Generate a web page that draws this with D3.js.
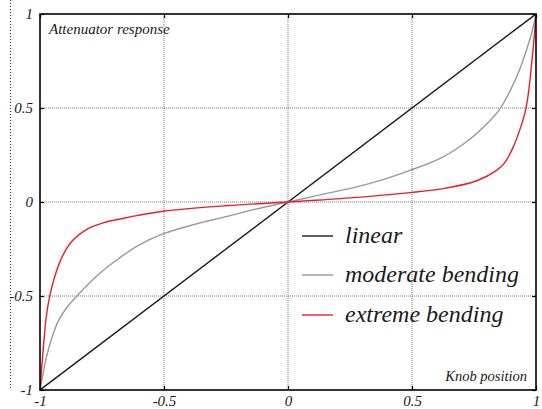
<!DOCTYPE html>
<html>
<head>
<meta charset="utf-8">
<script src="https://cdn.jsdelivr.net/npm/d3@7"></script>
<style>
  body { margin: 0; background: #fff; }
  svg { display: block; }
  text { font-family: "Liberation Serif", serif; font-style: italic; }
</style>
</head>
<body>
<div class="canvas"></div>
<script>
var w = 542;
var h = 409;

// knob position / response samples
var tickValues = [-1, -0.5, 0, 0.5, 1];
var tickLabels = ["-1", "-0.5", "0", "0.5", "1"];

var linearX = [-1, 1];
var linearY = [-1, 1];

var moderateX = [-1, -0.988, -0.975, -0.954, -0.927, -0.894, -0.851, -0.806, -0.753, -0.685, -0.605, -0.504, -0.38, -0.25, -0.13, 0,
    0.134, 0.269, 0.38, 0.492, 0.626, 0.734, 0.801, 0.852, 0.895, 0.935, 0.962, 0.983, 1];
var moderateY = [-1, -0.915, -0.83, -0.73, -0.635, -0.565, -0.5, -0.438, -0.372, -0.303, -0.232, -0.17, -0.12, -0.078, -0.038, 0,
    0.039, 0.078, 0.118, 0.168, 0.24, 0.335, 0.415, 0.49, 0.59, 0.708, 0.81, 0.9, 1];

var extremeX = [-1, -0.992, -0.984, -0.975, -0.961, -0.941, -0.914, -0.874, -0.806, -0.739, -0.672, -0.605, -0.504, -0.25, 0,
    0.25, 0.492, 0.626, 0.761, 0.841, 0.875, 0.909, 0.935, 0.956, 0.969, 0.983, 0.992, 1];
var extremeY = [-1, -0.86, -0.736, -0.612, -0.502, -0.399, -0.301, -0.213, -0.142, -0.108, -0.089, -0.071, -0.049, -0.02, 0,
    0.022, 0.05, 0.071, 0.113, 0.168, 0.211, 0.295, 0.385, 0.477, 0.575, 0.743, 0.867, 1];

var seriesNames = ["linear", "moderate bending", "extreme bending"];
var seriesColors = ["#1a1a1a", "#999999", "#ee1c25"];

var xScale = d3.scaleLinear().domain([-1, 1]).range([40, 536]);
var yScale = d3.scaleLinear().domain([-1, 1]).range([390, 14]);

var svg = d3.select(".canvas").append("svg")
    .attr("width", w)
    .attr("height", h);

// dotted line at far left
svg.append("line")
    .attr("x1", 10.5).attr("x2", 10.5)
    .attr("y1", 0).attr("y2", 390)
    .attr("stroke", "#333")
    .attr("stroke-width", 1)
    .attr("stroke-dasharray", "1,2");

// grid
var grid = svg.append("g");
[-0.5, 0, 0.5].forEach(function (v) {
    grid.append("line")
        .attr("x1", xScale(v)).attr("x2", xScale(v))
        .attr("y1", yScale(1)).attr("y2", yScale(-1))
        .attr("stroke", "#777").attr("stroke-width", 1)
        .attr("stroke-dasharray", "1,1");
    grid.append("line")
        .attr("x1", xScale(-1)).attr("x2", xScale(1))
        .attr("y1", yScale(v)).attr("y2", yScale(v))
        .attr("stroke", "#777").attr("stroke-width", 1)
        .attr("stroke-dasharray", "1,1");
});

function fmt(d) { return tickLabels[tickValues.indexOf(d)]; }

var xAxis = svg.append("g")
    .attr("transform", "translate(0," + yScale(-1) + ")")
    .call(d3.axisBottom(xScale).tickValues(tickValues).tickFormat(fmt).tickSizeInner(-4).tickSizeOuter(0).tickPadding(5));
var yAxis = svg.append("g")
    .attr("transform", "translate(" + xScale(-1) + ",0)")
    .call(d3.axisLeft(yScale).tickValues(tickValues).tickFormat(fmt).tickSizeInner(-4).tickSizeOuter(0).tickPadding(7));
var topAxis = svg.append("g")
    .attr("transform", "translate(0," + yScale(1) + ")")
    .call(d3.axisTop(xScale).tickValues(tickValues).tickFormat("").tickSizeInner(-4).tickSizeOuter(0));
var rightAxis = svg.append("g")
    .attr("transform", "translate(" + xScale(1) + ",0)")
    .call(d3.axisRight(yScale).tickValues(tickValues).tickFormat("").tickSizeInner(-4).tickSizeOuter(0));

[xAxis, yAxis, topAxis, rightAxis].forEach(function (a) {
    a.select(".domain").remove();
    a.selectAll("line").attr("stroke", "#000").attr("stroke-width", 1.2);
    a.selectAll("text")
        .attr("fill", "#1a1a1a")
        .style("font-size", "15px")
        .style("font-family", "'Liberation Serif', serif")
        .style("font-style", "italic");
});

// curves
var line = d3.line()
    .x(function (d) { return xScale(d[0]); })
    .y(function (d) { return yScale(d[1]); })
    .curve(d3.curveCatmullRom.alpha(0.5));

var seriesData = [
    d3.zip(linearX, linearY),
    d3.zip(moderateX, moderateY),
    d3.zip(extremeX, extremeY)
];

svg.append("defs").append("clipPath").attr("id", "plot")
    .append("rect")
    .attr("x", xScale(-1)).attr("y", yScale(1))
    .attr("width", xScale(1) - xScale(-1))
    .attr("height", yScale(-1) - yScale(1));

var curves = svg.append("g").attr("clip-path", "url(#plot)");
seriesData.forEach(function (d, i) {
    curves.append("path")
        .datum(d)
        .attr("d", line)
        .attr("fill", "none")
        .attr("stroke", seriesColors[i])
        .attr("stroke-width", 1.4);
});

// frame
svg.append("rect")
    .attr("x", xScale(-1)).attr("y", yScale(1))
    .attr("width", xScale(1) - xScale(-1))
    .attr("height", yScale(-1) - yScale(1))
    .attr("fill", "none")
    .attr("stroke", "#000")
    .attr("stroke-width", 1.6);

// labels
svg.append("text")
    .attr("x", 49).attr("y", 34)
    .attr("fill", "#1a1a1a")
    .style("font-size", "15px")
    .text("Attenuator response");
svg.append("text")
    .attr("x", 527).attr("y", 381)
    .attr("text-anchor", "end")
    .attr("fill", "#1a1a1a")
    .style("font-size", "14.5px")
    .text("Knob position");

// legend
var legendY = [236, 275, 315];
var legend = svg.append("g");
seriesNames.forEach(function (name, i) {
    legend.append("line")
        .attr("x1", 302).attr("x2", 333)
        .attr("y1", legendY[i]).attr("y2", legendY[i])
        .attr("stroke", seriesColors[i])
        .attr("stroke-width", 1.4);
    legend.append("text")
        .attr("x", 345).attr("y", legendY[i] + 7)
        .attr("fill", "#1a1a1a")
        .style("font-size", "24px")
        .text(name);
});
</script>
</body>
</html>
